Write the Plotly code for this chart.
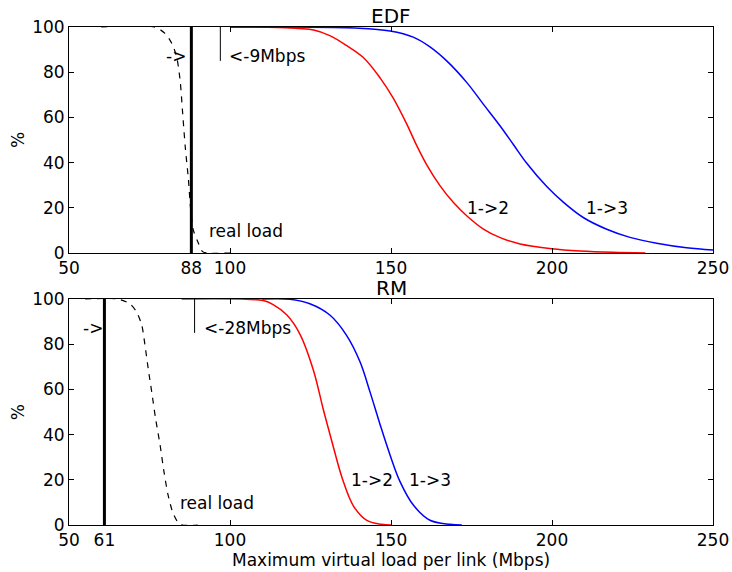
import plotly.graph_objects as go

# ---- EDF panel data (x in Mbps, y in %) ----
edf_12_x = [100, 115, 126, 131, 136, 141.4, 146.6, 150.7, 154.9, 158, 161.1, 165.2,
            169.4, 173.5, 178.7, 183.9, 190.1, 199.9, 208.7, 218.9, 229]
edf_12_y = [100, 99.8, 98.7, 96.2, 92, 86.5, 77.5, 68.5, 57, 47.5, 39, 29.8,
            22.3, 16.5, 10.6, 6.8, 4, 1.9, 0.9, 0.3, 0.05]

edf_13_x = [100, 120, 140, 149.7, 156.9, 162.1, 167.3, 173.5, 178.6, 183.9, 188, 192.1,
            198.3, 203.5, 209.7, 217, 224.2, 232.5, 241.8, 250]
edf_13_y = [100, 99.95, 99.5, 98.2, 95.5, 91.2, 85, 75.5, 66, 56.2, 48, 39.8,
            29.5, 22.5, 15.7, 10.5, 6.9, 4.3, 2.3, 1.3]

edf_real_x = [60, 76.5, 79.8, 81.9, 83.4, 84.5, 85.3, 86.1, 87.1, 87.8, 88.6, 90, 91.5, 93, 100]
edf_real_y = [100, 100, 97.2, 92.8, 86.9, 76.5, 61.8, 47, 32.3, 19, 10.2, 5, 0.6, 0, 0]

edf_limit = 88
edf_gap = 9

# ---- RM panel data ----
rm_12_x = [85, 105, 110.3, 113.4, 117.6, 121.7, 125.9, 129, 132.1, 134.9, 138.3, 142.5, 147, 150]
rm_12_y = [100, 99.9, 99.3, 97.5, 93, 84.5, 68.5, 51, 34.5, 20.5, 8.5, 2, 0.3, 0]

rm_13_x = [110, 118.6, 124.8, 131.1, 136.2, 140.4, 143.5, 146.6, 149.7, 152.8, 157, 162.1, 168.3, 172]
rm_13_y = [100, 99.9, 97.9, 92.8, 83.9, 72.1, 58.8, 44.5, 31, 19.2, 8.7, 2.1, 0.3, 0]

rm_real_x = [55, 65, 68.9, 71, 72.6, 73.6, 74.6, 75.7, 76.9, 78.3, 79.5, 80.8, 82.4, 84.5, 90]
rm_real_y = [100, 100, 97.9, 94.2, 88.4, 79.5, 69.2, 58.8, 47, 35.3, 23.5, 13.1, 5, 0.3, 0]

rm_limit = 61
rm_gap = 28

y_ticks = [0, 20, 40, 60, 80, 100]
FONT = "DejaVu Sans"
FS = 17
TITLE_FS = 20

fig = go.Figure()

def add_panel(xa, ya, c12x, c12y, c13x, c13y, rx, ry, limit, gap):
    kw = dict(xaxis=xa, yaxis=ya, mode="lines", hoverinfo="skip")
    fig.add_trace(go.Scatter(x=rx, y=ry, line=dict(color="black", width=1.2, dash="6px,6px",
                                                   shape="spline", smoothing=0.8), **kw))
    fig.add_trace(go.Scatter(x=c12x, y=c12y, line=dict(color="#ff0000", width=1.5,
                                                       shape="spline", smoothing=1.0), **kw))
    fig.add_trace(go.Scatter(x=c13x, y=c13y, line=dict(color="#0000ff", width=1.5,
                                                       shape="spline", smoothing=1.0), **kw))
    # measured real load bound
    fig.add_trace(go.Scatter(x=[limit, limit], y=[0, 100], line=dict(color="black", width=3), **kw))
    # gap marker
    fig.add_trace(go.Scatter(x=[limit + gap, limit + gap], y=[85, 100],
                             line=dict(color="black", width=1), **kw))

add_panel("x", "y", edf_12_x, edf_12_y, edf_13_x, edf_13_y, edf_real_x, edf_real_y, edf_limit, edf_gap)
add_panel("x2", "y2", rm_12_x, rm_12_y, rm_13_x, rm_13_y, rm_real_x, rm_real_y, rm_limit, rm_gap)

axis_common = dict(showline=True, linecolor="black", linewidth=1, mirror="ticks",
                   ticks="inside", ticklen=5, tickcolor="black", tickwidth=1,
                   showgrid=False, zeroline=False, automargin=False,
                   tickfont=dict(family=FONT, size=FS, color="black"))

top_dom = [0.5462, 1.0]
bot_dom = [0.0, 0.4538]

fig.update_layout(
    width=732, height=572, autosize=False,
    margin=dict(l=69, r=19, t=27, b=47, autoexpand=False),
    plot_bgcolor="white", paper_bgcolor="white",
    showlegend=False,
    font=dict(family=FONT, size=FS, color="black"),
    xaxis=dict(domain=[0, 1], anchor="y", range=[50, 250],
               tickvals=[50, edf_limit, 100, 150, 200, 250], **axis_common),
    yaxis=dict(domain=top_dom, anchor="x", range=[0, 100], tickvals=y_ticks, **axis_common),
    xaxis2=dict(domain=[0, 1], anchor="y2", range=[50, 250],
                tickvals=[50, rm_limit, 100, 150, 200, 250], **axis_common),
    yaxis2=dict(domain=bot_dom, anchor="x2", range=[0, 100], tickvals=y_ticks, **axis_common),
)

ann = []
def txt(text, x, y, xref, yref, size=FS, **extra):
    d = dict(text=text, x=x, y=y, xref=xref, yref=yref, showarrow=False,
             xanchor="left", yanchor="middle", font=dict(family=FONT, size=size, color="black"))
    d.update(extra)
    ann.append(d)

# panel titles
txt("EDF", 0.5, top_dom[1], "paper", "paper", size=TITLE_FS, xanchor="center", yanchor="bottom", yshift=-3)
txt("RM", 0.5, bot_dom[1], "paper", "paper", size=TITLE_FS, xanchor="center", yanchor="bottom", yshift=-3)
# axis titles
txt("Maximum virtual load per link (Mbps)", 0.5, -0.07, "paper", "paper", xanchor="center")
txt("%", -0.079, (top_dom[0] + top_dom[1]) / 2, "paper", "paper", xanchor="center", textangle=-90)
txt("%", -0.079, (bot_dom[0] + bot_dom[1]) / 2, "paper", "paper", xanchor="center", textangle=-90)

# EDF labels
txt("->", 79.5, 87, "x", "y")
txt("<-%dMbps" % edf_gap, 99.2, 87, "x", "y")
txt("real load", 93, 9.7, "x", "y")
txt("1->2", 173.1, 20, "x", "y")
txt("1->3", 210, 20, "x", "y")
# RM labels
txt("->", 53.6, 87, "x2", "y2")
txt("<-%dMbps" % rm_gap, 91.2, 87, "x2", "y2")
txt("real load", 84, 9.6, "x2", "y2")
txt("1->2", 137.1, 20, "x2", "y2")
txt("1->3", 155, 20, "x2", "y2")

fig.update_layout(annotations=ann)
fig.write_html("out.html", config={"responsive": False})
